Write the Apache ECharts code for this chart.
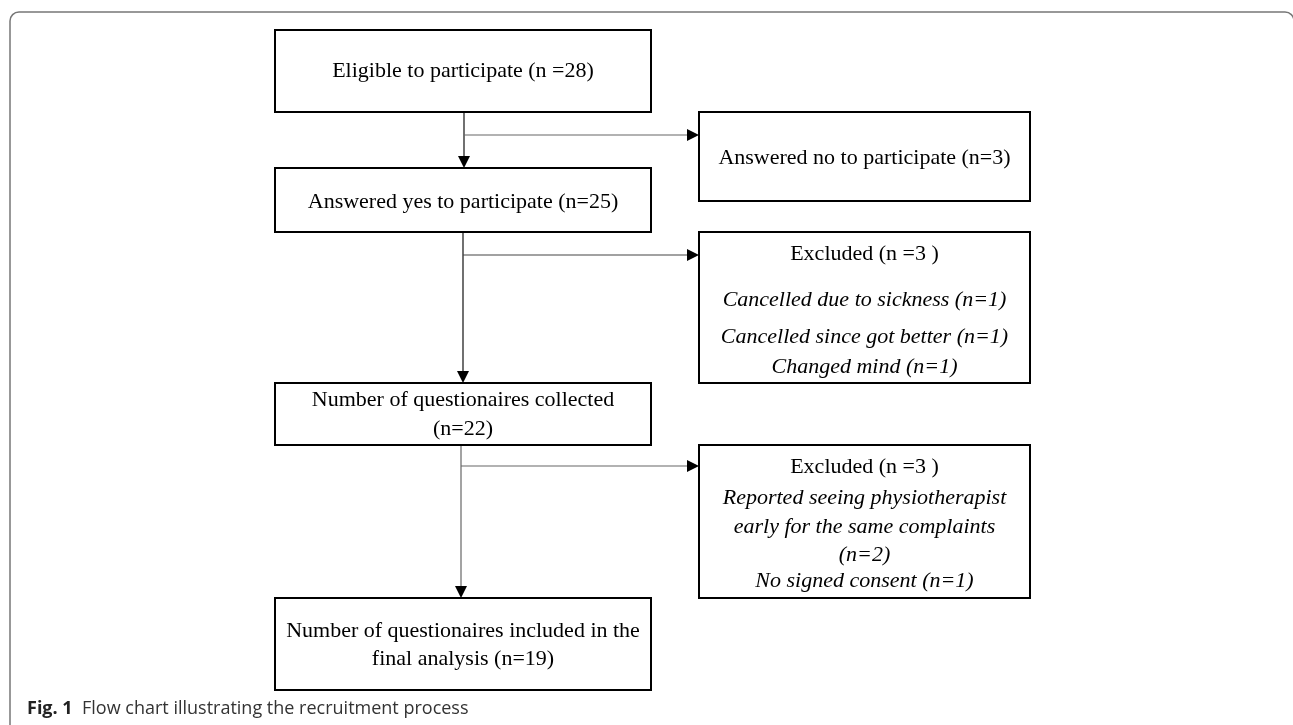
<!DOCTYPE html>
<html>
<head>
<meta charset="utf-8">
<script src="https://cdn.jsdelivr.net/npm/echarts@6/dist/echarts.min.js"></script>
<style>
html,body{margin:0;padding:0;background:#fff;}
#chart{width:1293px;height:725px;}
</style>
</head>
<body>
<div id="chart"></div>
<script>
// ---- content ----
const nodeTitles = [
  'Eligible to participate (n =28)',
  'Answered no to participate (n=3)',
  'Answered yes to participate (n=25)',
  'Excluded (n =3 )',
  'Number of questionaires collected',
  'Excluded (n =3 )',
  'Number of questionaires included in the'
];
const nodeSubtitles = [
  [], [], [], [], ['(n=22)'], [], ['final analysis (n=19)']
];
const nodeDetails = [
  [], [], [],
  ['Cancelled due to sickness (n=1)', 'Cancelled since got better (n=1)', 'Changed mind (n=1)'],
  [],
  ['Reported seeing physiotherapist', 'early for the same complaints', '(n=2)', 'No signed consent (n=1)'],
  []
];
const participantCounts = [28, 3, 25, 3, 22, 3, 19];
const links = [[0, 2], [0, 1], [2, 4], [2, 3], [4, 6], [4, 5]];
const captionLabel = 'Fig. 1';
const captionText = 'Flow chart illustrating the recruitment process';

// ---- layout (pixel space of the hidden axes) ----
const nodeBoxes = [
  [275, 30, 651, 112],
  [699, 112, 1030, 201],
  [275, 168, 651, 232],
  [699, 232, 1030, 383],
  [275, 383, 651, 445],
  [699, 445, 1030, 598],
  [275, 598, 651, 690]
];
const nodeLineY = [
  [71], [158], [202], [254, 300, 337, 367], [400, 429], [467, 498, 527, 555, 581], [631, 659]
];
// for each link: trunk x (vertical) or branch y (horizontal)
const linkGuide = [464, 135, 463, 255, 461, 466];
const linkKind = ['down', 'right', 'down', 'right', 'down', 'right'];
const linkColor = ['#111', '#666', '#111', '#444', '#666', '#666'];

const chart = echarts.init(document.getElementById('chart'), null, {renderer: 'canvas'});

const serif = '"Liberation Serif", "Times New Roman", serif';
const FS = 22;

function renderBox(params, api) {
  const i = api.value(0);
  const b = nodeBoxes[i];
  const p0 = api.coord([b[0], b[1]]);
  const p1 = api.coord([b[2], b[3]]);
  const cx = (p0[0] + p1[0]) / 2;
  const lines = [];
  nodeTitles[i] && lines.push({t: nodeTitles[i], it: false});
  nodeSubtitles[i].forEach(t => lines.push({t, it: false}));
  nodeDetails[i].forEach(t => lines.push({t, it: true}));
  const children = [{
    type: 'rect',
    shape: {x: p0[0], y: p0[1], width: p1[0] - p0[0], height: p1[1] - p0[1]},
    style: {fill: '#fff', stroke: '#000', lineWidth: 2}
  }];
  lines.forEach((ln, k) => {
    const y = api.coord([0, nodeLineY[i][k]])[1];
    children.push({
      type: 'text',
      x: cx, y: y,
      style: {
        text: ln.t, align: 'center', verticalAlign: 'middle',
        fontFamily: serif, fontSize: FS, fontStyle: ln.it ? 'italic' : 'normal',
        fill: '#000'
      }
    });
  });
  return {type: 'group', children};
}

function renderLink(params, api) {
  const k = api.value(0);
  const [s, t] = links[k];
  const sb = nodeBoxes[s], tb = nodeBoxes[t];
  const g = linkGuide[k];
  let a, c, dir;
  if (linkKind[k] === 'down') {
    a = api.coord([g, sb[3]]);
    c = api.coord([g, tb[1]]);
    dir = 'down';
  } else {
    const trunkIdx = links.findIndex((l, j) => l[0] === s && linkKind[j] === 'down');
    const tx = linkGuide[trunkIdx];
    a = api.coord([tx, g]);
    c = api.coord([tb[0], g]);
    dir = 'right';
  }
  const col = linkColor[k];
  const hl = 12, hw = 6;
  let lineEnd, pts;
  if (dir === 'down') {
    lineEnd = [c[0], c[1] - hl];
    pts = [[c[0] - hw, c[1] - hl], [c[0] + hw, c[1] - hl], [c[0], c[1]]];
  } else {
    lineEnd = [c[0] - hl, c[1]];
    pts = [[c[0] - hl, c[1] - hw], [c[0] - hl, c[1] + hw], [c[0], c[1]]];
  }
  return {
    type: 'group',
    children: [
      {type: 'line', shape: {x1: a[0], y1: a[1], x2: lineEnd[0], y2: lineEnd[1]},
       style: {stroke: col, lineWidth: 1.2}},
      {type: 'polygon', shape: {points: pts}, style: {fill: '#000'}}
    ]
  };
}

const capFont = '"Open Sans", "Noto Sans", sans-serif';
const option = {
  backgroundColor: '#fff',
  animation: false,
  grid: {left: 0, right: 0, top: 0, bottom: 0},
  xAxis: {type: 'value', min: 0, max: 1293, show: false},
  yAxis: {type: 'value', min: 0, max: 725, inverse: true, show: false},
  graphic: [
    {
      type: 'rect', silent: true,
      shape: {x: 10, y: 12, width: 1284, height: 800, r: 9},
      style: {fill: 'none', stroke: '#777', lineWidth: 1.5}
    },
    {
      type: 'text', x: 27, y: 709,
      style: {
        text: '{b|' + captionLabel + '}  ' + captionText,
        verticalAlign: 'middle',
        rich: {b: {fontWeight: 'bold', fontFamily: capFont, fontSize: 18, fill: '#222'}},
        fontFamily: capFont, fontSize: 18, fill: '#333'
      }
    }
  ],
  series: [
    {
      type: 'custom', coordinateSystem: 'cartesian2d', silent: true,
      renderItem: renderLink,
      data: links.map((l, k) => [k]),
      z: 1
    },
    {
      type: 'custom', coordinateSystem: 'cartesian2d', silent: true,
      renderItem: renderBox,
      data: nodeTitles.map((t, i) => [i, participantCounts[i]]),
      z: 2
    }
  ]
};
chart.setOption(option);
</script>
</body>
</html>
